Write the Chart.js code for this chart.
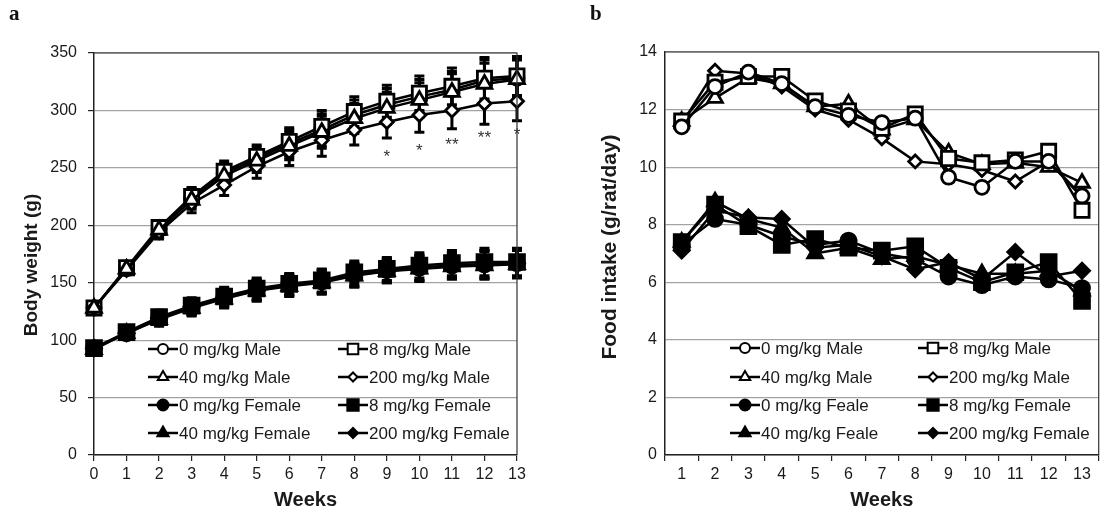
<!DOCTYPE html>
<html>
<head>
<meta charset="utf-8">
<title>Body weight and food intake</title>
<script src="https://cdn.jsdelivr.net/npm/chart.js@4/dist/chart.umd.min.js"></script>
<style>
  body { margin: 0; background: #fff; }
  #page { position: relative; width: 1112px; height: 519px; overflow: hidden; }
  .panel { position: absolute; top: 0; }
  .tag { position: absolute; top: 1px; font: bold 21px "Liberation Serif", "Times New Roman", serif; color: #111; }
</style>
</head>
<body>
<div id="page">
  <canvas id="chart-a" class="panel" style="left:0" width="560" height="519"></canvas>
  <canvas id="chart-b" class="panel" style="left:560px" width="552" height="519"></canvas>
  <div class="tag" style="left:9px">a</div>
  <div class="tag" style="left:590px">b</div>
</div>
<script>
// ---- data ----
const weeksA = ['0', '1', '2', '3', '4', '5', '6', '7', '8', '9', '10', '11', '12', '13'];
const weeksB = ['1', '2', '3', '4', '5', '6', '7', '8', '9', '10', '11', '12', '13'];

// body weight (g), weeks 0-13
const bwMale0 = [128, 162, 197, 224, 245, 258, 271, 283, 296, 305, 312, 318, 326, 328];
const bwMale8 = [128, 163, 198, 225, 247, 260, 273, 286, 299, 308, 315, 321, 328, 330];
const bwMale40 = [128, 162, 196, 222, 243, 256, 269, 281, 293, 302, 309, 316, 323, 327];
const bwMale200 = [128, 161, 194, 219, 235, 251, 264, 274, 283, 290, 296, 300, 306, 308];
const bwFemale0 = [93, 106, 119, 129, 137, 144, 148, 151, 157, 161, 163, 165, 166, 167];
const bwFemale8 = [93, 107, 120, 130, 138, 145, 149, 152, 159, 162, 165, 167, 168, 168];
const bwFemale40 = [92, 106, 118, 128, 136, 143, 147, 150, 156, 160, 162, 164, 165, 166];
const bwFemale200 = [93, 106, 119, 129, 137, 143, 148, 151, 157, 160, 163, 165, 166, 167];
const bwMaleSD = [3, 4, 6, 8, 9, 10, 12, 14, 13, 14, 15, 16, 18, 17];
const bwFemaleSD = [4, 5, 6, 7, 8, 9, 9, 10, 10, 10, 11, 11, 12, 12];

// significance marks (200 mg/kg male vs control)
const sigWeeks = [9, 10, 11, 12, 13];
const sigText = ['*', '*', '**', '**', '*'];
const sigLevel = [264, 269, 274, 280, 283];

// food intake (g/rat/day), weeks 1-13
const fiMale0 = [11.4, 12.8, 13.3, 12.9, 12.1, 11.8, 11.55, 11.7, 9.65, 9.3, 10.2, 10.2, 9.0];
const fiMale8 = [11.6, 12.95, 13.15, 13.15, 12.3, 11.95, 11.35, 11.85, 10.3, 10.15, 10.25, 10.55, 8.5];
const fiMale40 = [11.6, 12.4, 13.1, 12.9, 12.1, 12.2, 11.3, 11.65, 10.5, 10.1, 10.15, 10.0, 9.45];
const fiMale200 = [11.5, 13.35, 13.25, 12.8, 12.0, 11.65, 11.0, 10.2, 10.1, 9.9, 9.5, 10.2, 8.95];
const fiFemale0 = [7.3, 8.2, 8.0, 7.6, 7.3, 7.45, 7.0, 6.8, 6.2, 5.9, 6.2, 6.1, 5.8];
const fiFemale8 = [7.4, 8.7, 7.95, 7.3, 7.5, 7.2, 7.1, 7.25, 6.5, 6.0, 6.35, 6.7, 5.35];
const fiFemale40 = [7.4, 8.8, 8.2, 7.9, 7.0, 7.2, 6.8, 6.9, 6.6, 6.3, 6.3, 6.4, 5.7];
const fiFemale200 = [7.1, 8.5, 8.25, 8.2, 7.2, 7.3, 6.9, 6.45, 6.7, 6.1, 7.05, 6.2, 6.4];

const namesA = ['0 mg/kg Male', '8 mg/kg Male', '40 mg/kg Male', '200 mg/kg Male',
  '0 mg/kg Female', '8 mg/kg Female', '40 mg/kg Female', '200 mg/kg Female'];
const namesB = ['0 mg/kg Male', '8 mg/kg Male', '40 mg/kg Male', '200 mg/kg Male',
  '0 mg/kg Feale', '8 mg/kg Female', '40 mg/kg Feale', '200 mg/kg Female'];

// ---- styles ----
const FONT = '"Liberation Sans", Arial, Helvetica, sans-serif';
const INK = '#1a1a1a';
const GRID = '#a3a3a3';
const markerStyles = ['circle', 'rect', 'triangle', 'rectRot', 'circle', 'rect', 'triangle', 'rectRot'];
const markerSizes = [7, 10, 8.5, 6.5, 7.5, 10.5, 8.5, 7.5];
const legendSizes = [5, 7.5, 6, 4.5, 5.5, 8, 6.5, 5];
// lower value = drawn on top (panel a only; panel b keeps dataset order)
const drawOrderA = [2, 1, 0, 0, 2, 1, 0, 0];

function makeSeries(values, i, names, sd, order) {
  const male = i < 4;
  return {
    label: names[i],
    data: values,
    sd: sd || null,
    order: order ? order[i] : 0,
    borderColor: '#000',
    borderWidth: 2.5,
    pointStyle: markerStyles[i],
    pointRadius: markerSizes[i],
    pointBackgroundColor: male ? '#fff' : '#000',
    pointBorderColor: '#000',
    pointBorderWidth: 2.8,
    tension: 0,
    clip: false
  };
}

// SD whiskers drawn under the markers
const errorBars = {
  id: 'errorBars',
  beforeDatasetsDraw(chart) {
    const ctx = chart.ctx;
    const yScale = chart.scales.y;
    ctx.save();
    ctx.strokeStyle = '#000';
    ctx.lineWidth = 3;
    chart.data.datasets.forEach((ds, i) => {
      if (!ds.sd) return;
      chart.getDatasetMeta(i).data.forEach((pt, j) => {
        const top = yScale.getPixelForValue(ds.data[j] + ds.sd[j]);
        const bot = yScale.getPixelForValue(ds.data[j] - ds.sd[j]);
        ctx.beginPath();
        ctx.moveTo(pt.x, top);
        ctx.lineTo(pt.x, bot);
        ctx.moveTo(pt.x - 5, top);
        ctx.lineTo(pt.x + 5, top);
        ctx.moveTo(pt.x - 5, bot);
        ctx.lineTo(pt.x + 5, bot);
        ctx.stroke();
      });
    });
    ctx.restore();
  }
};

// asterisks for significant weeks
const sigMarks = {
  id: 'sigMarks',
  afterDatasetsDraw(chart, args, opts) {
    if (!opts.weeks) return;
    const ctx = chart.ctx;
    ctx.save();
    ctx.fillStyle = '#333';
    ctx.font = '17px ' + FONT;
    ctx.textAlign = 'center';
    ctx.textBaseline = 'alphabetic';
    opts.weeks.forEach((w, k) => {
      const x = chart.scales.x.getPixelForValue(w);
      const y = chart.scales.y.getPixelForValue(opts.levels[k]);
      ctx.fillText(opts.text[k], x, y + 10);
    });
    ctx.restore();
  }
};

// top/right frame of the plot area
const plotFrame = {
  id: 'plotFrame',
  afterDraw(chart) {
    const a = chart.chartArea;
    const ctx = chart.ctx;
    ctx.save();
    ctx.strokeStyle = '#333';
    ctx.lineWidth = 1.2;
    ctx.beginPath();
    ctx.moveTo(a.left, a.top);
    ctx.lineTo(a.right, a.top);
    ctx.lineTo(a.right, a.bottom);
    ctx.stroke();
    ctx.restore();
  }
};

// rotated y-axis title
const yTitle = {
  id: 'yTitle',
  afterDraw(chart, args, opts) {
    const ctx = chart.ctx;
    ctx.save();
    ctx.translate(opts.x, opts.y);
    ctx.rotate(-Math.PI / 2);
    ctx.fillStyle = INK;
    ctx.font = 'bold ' + opts.size + 'px ' + FONT;
    ctx.textAlign = 'center';
    ctx.textBaseline = 'middle';
    ctx.fillText(opts.text, 0, 0);
    ctx.restore();
  }
};

// two-column legend inside the plot area
const inlineLegend = {
  id: 'inlineLegend',
  afterDraw(chart, args, opts) {
    const ctx = chart.ctx;
    ctx.save();
    ctx.font = '17px ' + FONT;
    ctx.textBaseline = 'middle';
    ctx.textAlign = 'left';
    chart.data.datasets.forEach((ds, i) => {
      const x = opts.cols[i % 2];
      const y = opts.rows[Math.floor(i / 2)];
      ctx.strokeStyle = '#000';
      ctx.lineWidth = 2.5;
      ctx.beginPath();
      ctx.moveTo(x, y);
      ctx.lineTo(x + opts.lineLen, y);
      ctx.stroke();
      ctx.fillStyle = ds.pointBackgroundColor;
      ctx.lineWidth = 2;
      Chart.helpers.drawPoint(ctx, {
        pointStyle: ds.pointStyle, rotation: 0, radius: legendSizes[i], borderWidth: 2
      }, x + opts.lineLen / 2, y);
      ctx.fillStyle = INK;
      ctx.fillText(ds.label, x + opts.lineLen + 1, y + 1);
    });
    ctx.restore();
  }
};

function axisOptions(xLabels, offset, yMax, yStep, yTicks, yPad, yWidth) {
  return {
    x: {
      type: 'category',
      labels: xLabels,
      offset: offset,
      grid: { drawOnChartArea: false, offset: offset, tickLength: 6, tickColor: '#222', lineWidth: 1.2 },
      border: { color: '#222', width: 1.5 },
      ticks: { color: INK, font: { size: 16, family: FONT }, padding: 4, maxRotation: 0, autoSkip: false },
      title: { display: true, text: 'Weeks', color: INK, font: { size: 20, weight: 'bold', family: FONT }, padding: { top: 0, bottom: 7 } },
      afterFit: s => { s.height = 64; }
    },
    y: {
      min: 0,
      max: yMax,
      grid: { color: GRID, lineWidth: 1.2, drawTicks: yTicks, tickLength: 6, tickColor: '#222' },
      border: { color: '#222', width: 1.5 },
      ticks: { stepSize: yStep, color: INK, font: { size: 16, family: FONT }, padding: yPad },
      afterFit: s => { s.width = yWidth; }
    }
  };
}

// ---- panel a: body weight ----
const bwMale = [bwMale0, bwMale8, bwMale40, bwMale200];
const bwFemale = [bwFemale0, bwFemale8, bwFemale40, bwFemale200];
const setsA = bwMale.map((v, i) => makeSeries(v, i, namesA, bwMaleSD, drawOrderA))
  .concat(bwFemale.map((v, i) => makeSeries(v, i + 4, namesA, bwFemaleSD, drawOrderA)));

new Chart(document.getElementById('chart-a'), {
  type: 'line',
  data: { labels: weeksA, datasets: setsA },
  options: {
    responsive: false,
    animation: false,
    layout: { padding: { top: 53, right: 43, left: 0, bottom: 0 } },
    scales: axisOptions(weeksA, false, 350, 50, true, 11, 94),
    plugins: {
      legend: { display: false },
      tooltip: { enabled: false },
      sigMarks: { weeks: sigWeeks, text: sigText, levels: sigLevel },
      yTitle: { text: 'Body weight (g)', x: 32, y: 265, size: 19 },
      inlineLegend: { cols: [148, 338], rows: [349, 377, 405, 433], lineLen: 30 }
    }
  },
  plugins: [errorBars, sigMarks, plotFrame, yTitle, inlineLegend]
});

// ---- panel b: food intake ----
const fiMale = [fiMale0, fiMale8, fiMale40, fiMale200];
const fiFemale = [fiFemale0, fiFemale8, fiFemale40, fiFemale200];
const setsB = fiMale.map((v, i) => makeSeries(v, i, namesB))
  .concat(fiFemale.map((v, i) => makeSeries(v, i + 4, namesB)));

new Chart(document.getElementById('chart-b'), {
  type: 'line',
  data: { labels: weeksB, datasets: setsB },
  options: {
    responsive: false,
    animation: false,
    layout: { padding: { top: 52, right: 4, left: 0, bottom: 0 } },
    scales: axisOptions(weeksB, true, 14, 2, false, 8, 105),
    plugins: {
      legend: { display: false },
      tooltip: { enabled: false },
      yTitle: { text: 'Food intake (g/rat/day)', x: 50, y: 247, size: 21 },
      inlineLegend: { cols: [170, 358], rows: [348, 377, 405, 433], lineLen: 30 }
    }
  },
  plugins: [errorBars, plotFrame, yTitle, inlineLegend]
});
</script>
</body>
</html>
